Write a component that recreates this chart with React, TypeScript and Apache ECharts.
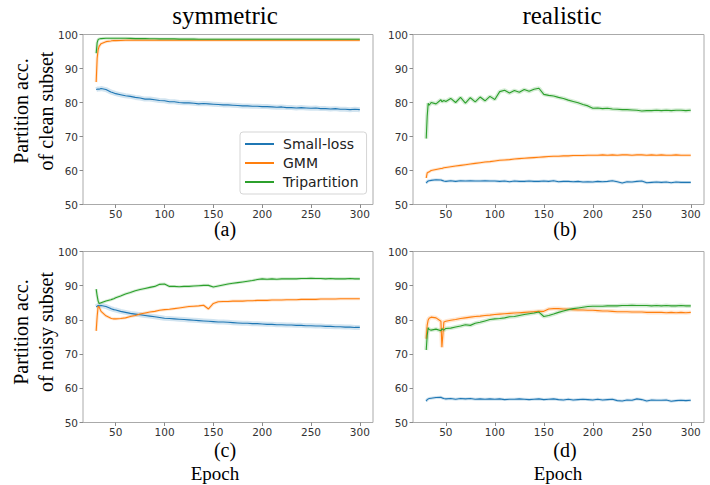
import React, { useEffect, useRef } from "react";
import * as echarts from "echarts";

const EPOCHS = [
  30, 31, 32, 33, 35, 40, 45, 46, 48, 50,
  55, 60, 65, 70, 75, 80, 85, 90, 95, 100,
  105, 110, 115, 120, 125, 130, 135, 140, 145, 150,
  155, 160, 165, 170, 175, 180, 185, 190, 195, 200,
  205, 210, 215, 220, 225, 230, 235, 240, 245, 250,
  255, 260, 265, 270, 275, 280, 285, 290, 295, 300,
];

const X_TICKS = [50, 100, 150, 200, 250, 300];
const METHODS = ["Small-loss", "GMM", "Tripartition"];
const COLUMN_TITLES = ["symmetric", "realistic"];
const PANEL_LABELS = ["(a)", "(b)", "(c)", "(d)"];
const ROW_LABELS = [
  ["Partition acc.", "of clean subset"],
  ["Partition acc.", "of noisy subset"],
];
const X_TITLE = "Epoch";

// (a) symmetric, clean subset
const A_SMALL_LOSS = [
  83.8, 83.9, 84.0, 83.9, 84.1, 83.8, 83.1, 83.0, 82.8, 82.6,
  82.3, 82.0, 81.8, 81.5, 81.3, 81.0, 81.0, 80.8, 80.6, 80.5,
  80.2, 80.2, 80.0, 79.9, 79.9, 79.8, 79.6, 79.7, 79.6, 79.5,
  79.4, 79.3, 79.3, 79.2, 79.1, 79.0, 79.0, 78.9, 78.9, 78.8,
  78.8, 78.7, 78.6, 78.7, 78.5, 78.5, 78.4, 78.5, 78.4, 78.3,
  78.4, 78.2, 78.2, 78.1, 78.2, 78.0, 78.0, 77.9, 78.0, 77.9,
];
const A_GMM = [
  86.0, 93.0, 95.5, 96.5, 97.3, 97.9, 98.1, 98.15, 98.2, 98.2,
  98.25, 98.3, 98.3, 98.3, 98.3, 98.3, 98.3, 98.3, 98.3, 98.3,
  98.3, 98.3, 98.3, 98.3, 98.3, 98.3, 98.3, 98.3, 98.3, 98.3,
  98.3, 98.3, 98.3, 98.3, 98.3, 98.3, 98.3, 98.3, 98.3, 98.3,
  98.3, 98.3, 98.3, 98.3, 98.3, 98.3, 98.3, 98.3, 98.3, 98.3,
  98.3, 98.3, 98.3, 98.3, 98.3, 98.3, 98.3, 98.3, 98.3, 98.3,
];
const A_TRIPARTITION = [
  94.5, 97.6, 98.5, 98.7, 98.8, 98.9, 98.9, 98.9, 98.9, 98.9,
  98.9, 98.9, 98.85, 98.8, 98.8, 98.8, 98.75, 98.75, 98.7, 98.7,
  98.7, 98.7, 98.65, 98.65, 98.65, 98.65, 98.6, 98.6, 98.6, 98.6,
  98.6, 98.6, 98.6, 98.6, 98.6, 98.6, 98.6, 98.6, 98.6, 98.6,
  98.6, 98.6, 98.6, 98.6, 98.6, 98.6, 98.6, 98.6, 98.6, 98.6,
  98.6, 98.6, 98.6, 98.6, 98.6, 98.6, 98.6, 98.6, 98.6, 98.6,
];

// (b) realistic, clean subset
const B_SMALL_LOSS = [
  56.3, 56.7, 56.9, 57.0, 57.1, 57.3, 57.2, 57.1, 56.9, 56.8,
  57.0, 56.8, 57.0, 56.9, 57.0, 56.9, 56.9, 57.0, 56.9, 56.9,
  56.8, 56.9, 56.7, 56.9, 56.8, 56.8, 56.9, 56.8, 56.8, 56.9,
  56.8, 57.0, 56.7, 56.8, 56.8, 56.7, 56.8, 56.6, 56.7, 56.6,
  56.8, 56.7, 56.8, 57.0, 56.7, 56.3, 56.7, 56.6, 56.8, 56.9,
  56.4, 56.5, 56.6, 56.5, 56.6, 56.4, 56.6, 56.5, 56.5, 56.5,
];
const B_GMM = [
  57.8, 59.3, 59.5, 59.6, 60.0, 60.3, 60.6, 60.6, 60.8, 60.9,
  61.1, 61.3, 61.5, 61.7, 61.9, 62.1, 62.3, 62.5, 62.6, 62.8,
  63.0, 63.1, 63.2, 63.4, 63.5, 63.6, 63.7, 63.8, 63.9, 64.0,
  64.1, 64.2, 64.2, 64.3, 64.3, 64.4, 64.4, 64.4, 64.5, 64.5,
  64.5, 64.6, 64.5, 64.6, 64.5, 64.6, 64.6, 64.5, 64.6, 64.6,
  64.5, 64.6, 64.5, 64.6, 64.5, 64.5, 64.6, 64.5, 64.5, 64.5,
];
const B_TRIPARTITION = [
  69.4, 76.0, 79.8, 79.2, 80.0, 79.6, 80.8, 80.2, 80.6, 80.3,
  81.2, 80.0, 81.5, 79.8, 81.4, 80.2, 81.6, 80.5, 81.8, 80.9,
  83.2, 83.6, 82.8, 83.5, 83.0, 83.8, 83.3, 83.9, 84.2, 82.4,
  82.1, 81.9, 81.5, 81.2, 80.7, 80.3, 79.9, 79.4, 79.0, 78.3,
  78.4, 78.2, 78.3, 78.1, 78.0, 77.9, 77.9, 77.8, 77.7, 77.5,
  77.6, 77.6, 77.7, 77.6, 77.7, 77.6, 77.7, 77.7, 77.6, 77.7,
];

// (c) symmetric, noisy subset
const C_SMALL_LOSS = [
  83.8, 84.0, 84.2, 84.1, 84.2, 83.9, 83.3, 83.2, 83.0, 82.9,
  82.5, 82.2, 81.9, 81.7, 81.5, 81.3, 81.1, 80.9, 80.7, 80.5,
  80.4, 80.3, 80.2, 80.1, 80.0, 79.9, 79.8, 79.7, 79.6, 79.5,
  79.4, 79.4, 79.3, 79.2, 79.1, 79.0, 79.0, 78.9, 78.9, 78.8,
  78.7, 78.7, 78.6, 78.6, 78.5, 78.5, 78.4, 78.4, 78.3, 78.3,
  78.2, 78.2, 78.1, 78.1, 78.0, 78.0, 77.9, 77.9, 77.8, 77.8,
];
const C_GMM = [
  76.8, 81.0, 84.0, 83.8, 82.5, 81.2, 80.5, 80.4, 80.3, 80.3,
  80.4, 80.6, 81.0, 81.3, 81.7, 82.0, 82.3, 82.5, 82.8, 83.0,
  83.1, 83.3, 83.5, 83.7, 83.9, 84.0, 84.1, 84.3, 83.2, 84.8,
  85.3, 85.4, 85.4, 85.5, 85.5, 85.5, 85.6, 85.6, 85.7, 85.7,
  85.7, 85.8, 85.8, 85.8, 85.9, 85.9, 85.9, 86.0, 86.0, 86.0,
  86.0, 86.1, 86.1, 86.1, 86.1, 86.2, 86.2, 86.2, 86.2, 86.2,
];
const C_TRIPARTITION = [
  89.0, 87.0, 85.5, 84.8, 85.0, 85.5, 85.9, 86.0, 86.2, 86.5,
  87.0, 87.6, 88.0, 88.5, 88.9, 89.2, 89.5, 89.8, 90.4, 90.5,
  89.8, 89.8, 89.7, 89.8, 89.8, 89.9, 90.0, 90.1, 90.1, 89.6,
  89.9, 90.2, 90.5, 90.7, 90.9, 91.1, 91.3, 91.5, 91.8, 92.0,
  91.9, 92.0, 91.9, 92.0, 92.0, 92.0, 92.0, 92.1, 92.1, 92.2,
  92.1, 92.1, 92.0, 92.1, 92.0, 92.0, 92.0, 92.1, 92.0, 92.0,
];

// (d) realistic, noisy subset
const D_SMALL_LOSS = [
  56.2, 56.7, 56.9, 57.0, 57.1, 57.3, 57.4, 57.2, 57.0, 56.9,
  57.0, 56.8, 57.0, 56.9, 57.0, 56.8, 56.9, 56.8, 56.9, 56.8,
  56.9, 56.7, 56.8, 56.8, 56.9, 56.8, 56.7, 56.8, 56.9, 56.7,
  56.8, 56.9, 56.7, 56.6, 56.8, 56.6, 56.7, 56.8, 56.7, 56.6,
  56.8, 56.6, 56.7, 56.8, 56.4, 56.3, 56.6, 56.5, 56.9, 56.7,
  56.3, 56.6, 56.5, 56.5, 56.6, 56.2, 56.4, 56.5, 56.4, 56.5,
];
const D_GMM = [
  74.5, 78.5, 80.0, 80.5, 80.8, 80.6, 79.6, 72.0, 79.4, 79.6,
  79.9, 80.1, 80.4, 80.6, 80.8, 81.0, 81.1, 81.3, 81.4, 81.6,
  81.7, 81.8, 81.9, 82.0, 82.1, 82.2, 82.3, 82.4, 82.5, 82.5,
  83.2, 83.3, 83.3, 83.2, 83.1, 83.0, 82.9, 82.9, 82.8, 82.8,
  82.7, 82.6, 82.6, 82.5, 82.4, 82.4, 82.4, 82.3, 82.3, 82.3,
  82.2, 82.2, 82.2, 82.2, 82.1, 82.2, 82.1, 82.2, 82.1, 82.2,
];
const D_TRIPARTITION = [
  71.2, 75.5, 77.7, 77.2, 77.0, 77.3, 76.8, 77.4, 77.0, 77.5,
  77.6, 77.9, 78.2, 78.6, 78.4, 79.0, 79.3, 79.7, 80.1, 80.3,
  80.4, 80.6, 80.9, 81.0, 81.3, 81.6, 81.8, 82.0, 82.3, 81.0,
  81.3, 81.7, 82.2, 82.6, 83.0, 83.3, 83.5, 83.7, 83.9, 84.0,
  84.0, 84.0, 84.1, 84.1, 84.1, 84.2, 84.2, 84.3, 84.2, 84.2,
  84.2, 84.1, 84.2, 84.1, 84.2, 84.1, 84.1, 84.2, 84.1, 84.1,
];

const PANEL_DATA = [
  [A_SMALL_LOSS, A_GMM, A_TRIPARTITION],
  [B_SMALL_LOSS, B_GMM, B_TRIPARTITION],
  [C_SMALL_LOSS, C_GMM, C_TRIPARTITION],
  [D_SMALL_LOSS, D_GMM, D_TRIPARTITION],
];

const COLORS = ["#1f77b4", "#ff7f0e", "#2ca02c"];
const SERIF = "'Liberation Serif', 'Times New Roman', serif";
const SANS = "'DejaVu Sans', sans-serif";

// layout (pixels)
const GRIDS = [
  { left: 83, top: 34.5, width: 290, height: 170 },
  { left: 413, top: 34.5, width: 291, height: 170 },
  { left: 83, top: 251.5, width: 290, height: 171 },
  { left: 413, top: 251.5, width: 291, height: 171 },
];
const HALO_WIDTH = [
  [5, 3, 3],
  [3, 3, 4],
  [5, 3, 3],
  [3, 4, 4],
];

export default function App() {
  const ref = useRef<HTMLDivElement>(null);

  useEffect(() => {
    if (!ref.current) return;
    const chart = echarts.init(ref.current, null, { renderer: "svg" });

    const grid = GRIDS.map((g) => ({
      ...g,
      show: true,
      borderColor: "#aaaaaa",
      borderWidth: 1,
      backgroundColor: "transparent",
    }));

    const xAxis = GRIDS.map((_, i) => ({
      type: "value",
      gridIndex: i,
      min: 16.5,
      max: 313.5,
      axisLine: { show: false },
      splitLine: { show: false },
      axisTick: {
        show: true,
        length: 3.5,
        customValues: X_TICKS,
        lineStyle: { color: "#8a8a8a", width: 1 },
      },
      axisLabel: {
        customValues: X_TICKS,
        fontFamily: SANS,
        fontSize: 10.5,
        color: "#333",
        margin: 4,
      },
    }));

    const yAxis = GRIDS.map((_, i) => ({
      type: "value",
      gridIndex: i,
      min: 50,
      max: 100,
      interval: 10,
      axisLine: { show: false },
      splitLine: { show: false },
      axisTick: {
        show: true,
        length: 3.5,
        lineStyle: { color: "#8a8a8a", width: 1 },
      },
      axisLabel: {
        fontFamily: SANS,
        fontSize: 10.5,
        color: "#333",
        margin: 5,
      },
    }));

    const series: any[] = [];
    PANEL_DATA.forEach((panel, p) => {
      panel.forEach((values, k) => {
        const data = EPOCHS.map((e, j) => [e, values[j]]);
        series.push({
          type: "line",
          name: METHODS[k] + " band",
          xAxisIndex: p,
          yAxisIndex: p,
          data,
          showSymbol: false,
          silent: true,
          z: 1,
          lineStyle: { color: COLORS[k], width: HALO_WIDTH[p][k], opacity: 0.2 },
          itemStyle: { color: COLORS[k] },
        });
      });
      panel.forEach((values, k) => {
        const data = EPOCHS.map((e, j) => [e, values[j]]);
        series.push({
          type: "line",
          name: METHODS[k],
          xAxisIndex: p,
          yAxisIndex: p,
          data,
          showSymbol: false,
          z: 3,
          lineStyle: { color: COLORS[k], width: 1.1 },
          itemStyle: { color: COLORS[k] },
        });
      });
    });

    const texts: any[] = [];
    const colCenters = [225, 562];
    const labelCenters = [
      [225, 229],
      [565, 229],
      [225, 449.5],
      [565, 449.5],
    ];
    COLUMN_TITLES.forEach((t, i) => {
      texts.push({
        type: "text",
        x: colCenters[i],
        y: 15,
        style: {
          text: t,
          font: `25px ${SERIF}`,
          fill: "#000",
          textAlign: "center",
          textVerticalAlign: "middle",
        },
      });
    });
    PANEL_LABELS.forEach((t, i) => {
      texts.push({
        type: "text",
        x: labelCenters[i][0],
        y: labelCenters[i][1],
        style: {
          text: t,
          font: `20px ${SERIF}`,
          fill: "#000",
          textAlign: "center",
          textVerticalAlign: "middle",
        },
      });
    });
    const epochCenters = [215, 558];
    epochCenters.forEach((cx) => {
      texts.push({
        type: "text",
        x: cx,
        y: 473,
        style: {
          text: X_TITLE,
          font: `19px ${SERIF}`,
          fill: "#000",
          textAlign: "center",
          textVerticalAlign: "middle",
        },
      });
    });
    const rowCenters = [111, 332];
    ROW_LABELS.forEach((lines, r) => {
      lines.forEach((line, li) => {
        texts.push({
          type: "text",
          x: li === 0 ? 21 : 45.5,
          y: rowCenters[r],
          rotation: Math.PI / 2,
          style: {
            text: line,
            font: `20px ${SERIF}`,
            fill: "#000",
            textAlign: "center",
            textVerticalAlign: "middle",
          },
        });
      });
    });

    chart.setOption({
      animation: false,
      backgroundColor: "#fff",
      grid,
      xAxis,
      yAxis,
      series,
      legend: {
        data: METHODS,
        orient: "vertical",
        left: 240,
        top: 132,
        padding: [5, 8, 5, 5],
        itemGap: 5,
        itemWidth: 29,
        itemHeight: 2,
        icon: "rect",
        backgroundColor: "rgba(255,255,255,0.85)",
        borderColor: "#d5d5d5",
        borderWidth: 1,
        borderRadius: 3,
        selectedMode: false,
        textStyle: {
          fontFamily: SANS,
          fontSize: 14,
          color: "#222",
          padding: [0, 0, 0, 4],
        },
        z: 10,
      },
      graphic: texts,
    });

    return () => chart.dispose();
  }, []);

  return (
    <div
      ref={ref}
      style={{ position: "absolute", left: 0, top: 0, width: 710, height: 485 }}
    />
  );
}
